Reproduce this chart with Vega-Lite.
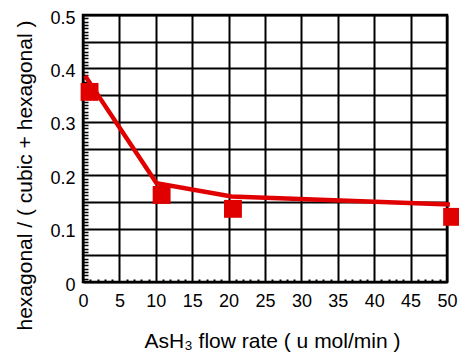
{
  "$schema": "https://vega.github.io/schema/vega-lite/v6.json",
  "width": 364,
  "height": 267,
  "autosize": {"type": "none"},
  "padding": {"left": 83, "top": 15, "right": 12, "bottom": 72},
  "background": "white",
  "config": {
    "view": {"stroke": "black", "strokeWidth": 2.5},
    "font": "Liberation Sans",
    "axis": {
      "labelFont": "Liberation Sans",
      "titleFont": "Liberation Sans",
      "labelColor": "black",
      "titleColor": "black",
      "labelFontSize": 18,
      "titleFontSize": 21,
      "titleFontWeight": "normal",
      "gridColor": "black",
      "gridWidth": 2,
      "gridOpacity": 1,
      "tickColor": "black",
      "domain": false
    }
  },
  "datasets": {
    "fit": [
      {"flow": 0.3, "ratio": 0.386},
      {"flow": 10.1, "ratio": 0.185},
      {"flow": 20.4, "ratio": 0.16},
      {"flow": 50.4, "ratio": 0.145}
    ],
    "measured": [
      {"flow": 0.9, "ratio": 0.356},
      {"flow": 10.8, "ratio": 0.163},
      {"flow": 20.6, "ratio": 0.137},
      {"flow": 50.7, "ratio": 0.122}
    ]
  },
  "layer": [
    {
      "data": {"name": "fit"},
      "mark": {"type": "line", "color": "#e00000", "strokeWidth": 4.5, "clip": false},
      "encoding": {
        "x": {
          "field": "flow", "type": "quantitative",
          "scale": {"domain": [0, 50], "nice": false, "zero": false},
          "axis": {
            "orient": "bottom",
            "title": "AsH₃ flow rate ( u mol/min )",
            "values": [0, 5, 10, 15, 20, 25, 30, 35, 40, 45, 50],
            "grid": true,
            "ticks": false,
            "labelPadding": 10,
            "labelFlush": false,
            "titlePadding": 20,
            "titleX": 189
          }
        },
        "y": {
          "field": "ratio", "type": "quantitative",
          "scale": {"domain": [0, 0.5], "nice": false, "zero": false},
          "axis": {
            "orient": "left",
            "title": "hexagonal / ( cubic + hexagonal )",
            "values": [0, 0.05, 0.1, 0.15, 0.2, 0.25, 0.3, 0.35, 0.4, 0.45, 0.5],
            "labelExpr": "round(datum.value*20) % 2 == 0 ? format(datum.value, '~g') : ''",
            "grid": true,
            "ticks": false,
            "labelPadding": 8,
            "labelOffset": 3,
            "labelFlush": false,
            "titlePadding": 14,
            "titleY": 160
          }
        }
      }
    },
    {
      "data": {"name": "measured"},
      "mark": {"type": "square", "color": "#e00000", "size": 320, "opacity": 1, "filled": true, "clip": false},
      "encoding": {
        "x": {
          "field": "flow", "type": "quantitative",
          "axis": {
            "orient": "bottom",
            "title": null,
            "values": [1, 2, 3, 4, 6, 7, 8, 9, 11, 12, 13, 14, 16, 17, 18, 19, 21, 22, 23, 24, 26, 27, 28, 29, 31, 32, 33, 34, 36, 37, 38, 39, 41, 42, 43, 44, 46, 47, 48, 49],
            "labels": false,
            "grid": false,
            "ticks": true,
            "tickSize": -3,
            "tickWidth": 2
          }
        },
        "y": {
          "field": "ratio", "type": "quantitative",
          "axis": {
            "orient": "left",
            "title": null,
            "values": [0.00625, 0.0125, 0.01875, 0.025, 0.03125, 0.0375, 0.04375, 0.05625, 0.0625, 0.06875, 0.075, 0.08125, 0.0875, 0.09375, 0.10625, 0.1125, 0.11875, 0.125, 0.13125, 0.1375, 0.14375, 0.15625, 0.1625, 0.16875, 0.175, 0.18125, 0.1875, 0.19375, 0.20625, 0.2125, 0.21875, 0.225, 0.23125, 0.2375, 0.24375, 0.25625, 0.2625, 0.26875, 0.275, 0.28125, 0.2875, 0.29375, 0.30625, 0.3125, 0.31875, 0.325, 0.33125, 0.3375, 0.34375, 0.35625, 0.3625, 0.36875, 0.375, 0.38125, 0.3875, 0.39375, 0.40625, 0.4125, 0.41875, 0.425, 0.43125, 0.4375, 0.44375, 0.45625, 0.4625, 0.46875, 0.475, 0.48125, 0.4875, 0.49375],
            "labels": false,
            "grid": false,
            "ticks": true,
            "tickSize": -5,
            "tickWidth": 1.5
          }
        }
      }
    }
  ],
  "resolve": {"axis": {"x": "independent", "y": "independent"}}
}
